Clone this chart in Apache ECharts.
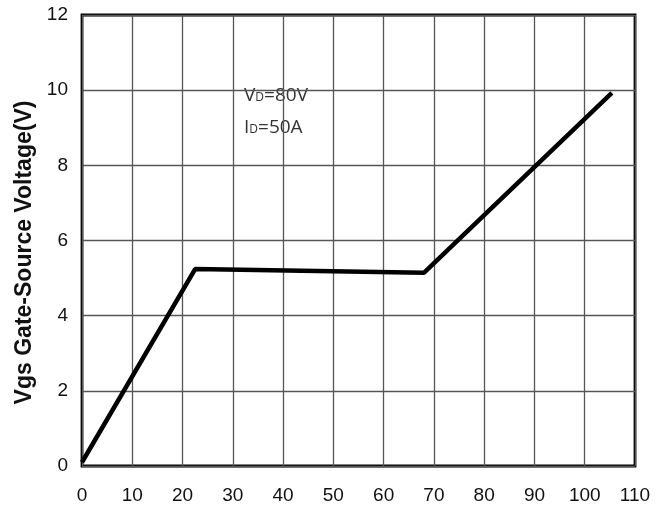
<!DOCTYPE html>
<html><head><meta charset="utf-8">
<script src="https://cdn.jsdelivr.net/npm/echarts@6/dist/echarts.min.js"></script>
<style>html,body{margin:0;padding:0;background:#fff}#c{width:670px;height:510px}</style>
</head><body><div id="c"></div>
<script>
var qg = [0, 22.5, 68, 105.4];
var vgs = [0.1, 5.24, 5.14, 9.93];
var xTicks = [0, 10, 20, 30, 40, 50, 60, 70, 80, 90, 100, 110];
var yTicks = [0, 2, 4, 6, 8, 10, 12];
var yTitle = 'Vgs Gate-Source Voltage(V)';
var noteVd = ['V', 'D', '=80V'];
var noteId = ['I', 'D', '=50A'];

var lblFont = '"Liberation Sans", Arial, sans-serif';
var chart = echarts.init(document.getElementById('c'), null, {renderer: 'canvas'});
chart.setOption({
  animation: false,
  grid: {left: 82, top: 15, width: 553, height: 451, show: true, borderColor: '#000', borderWidth: 2.8, backgroundColor: 'transparent'},
  xAxis: {
    type: 'value', min: xTicks[0], max: xTicks[xTicks.length - 1], interval: 10,
    axisLine: {show: false}, axisTick: {show: false},
    axisLabel: {color: '#111', fontFamily: lblFont, fontSize: 19, margin: 20},
    splitLine: {show: true, lineStyle: {color: '#555', width: 1.3}}
  },
  yAxis: {
    type: 'value', min: yTicks[0], max: yTicks[yTicks.length - 1], interval: 2,
    name: yTitle, nameLocation: 'middle', nameGap: 46, nameRotate: 90,
    nameTextStyle: {fontFamily: '"Liberation Sans", Arial, sans-serif', fontWeight: 'bold', fontSize: 23, color: '#111', padding: [0, 0, 0, -24]},
    axisLine: {show: false}, axisTick: {show: false},
    axisLabel: {color: '#111', fontFamily: lblFont, fontSize: 19, margin: 14},
    splitLine: {show: true, lineStyle: {color: '#555', width: 1.3}}
  },
  graphic: [{
    type: 'text', left: 244, top: 86,
    style: {
      rich: {
        a: {fontFamily: '"Open Sans", sans-serif', fontSize: 19, fill: '#333', lineHeight: 32, verticalAlign: 'middle'},
        b: {fontFamily: '"Open Sans", sans-serif', fontSize: 12, fill: '#333', verticalAlign: 'middle', padding: [5, 0, 0, 0]}
      },
      text: '{a|' + noteVd[0] + '}{b|' + noteVd[1] + '}{a|' + noteVd[2] + '}\n{a|' + noteId[0] + '}{b|' + noteId[1] + '}{a|' + noteId[2] + '}'
    }
  }],
  series: [{
    type: 'line', data: qg.map(function (x, i) { return [x, vgs[i]]; }),
    showSymbol: false, lineStyle: {color: '#000', width: 4.5}
  }]
});
</script></body></html>
